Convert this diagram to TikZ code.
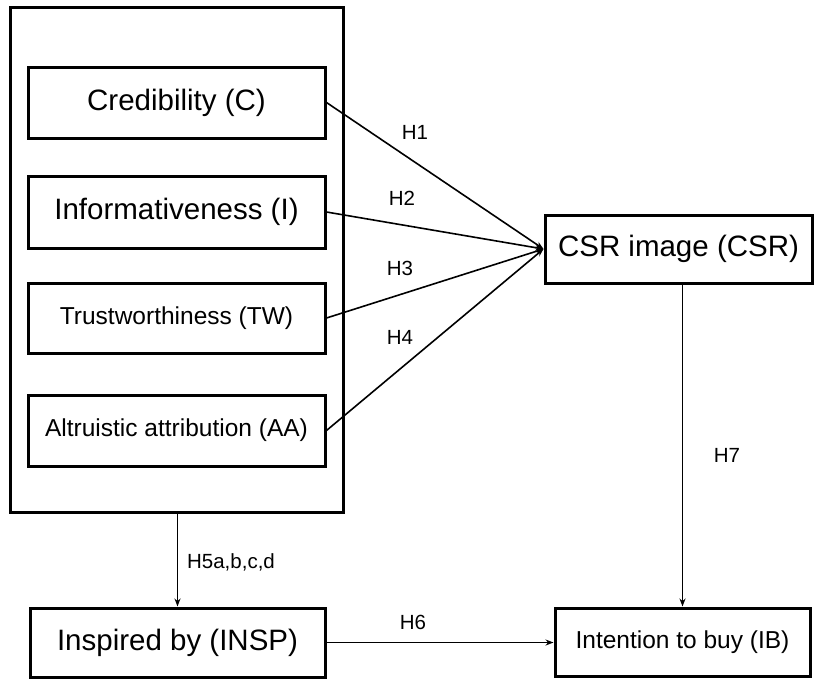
\documentclass[tikz,border=0pt]{standalone}
\usepackage{fontspec}
\setmainfont{Liberation Sans}
\usetikzlibrary{arrows.meta}
\begin{document}
\begin{tikzpicture}[x=1pt,y=-1pt,
  bigtxt/.style={font=\fontsize{29.5}{34}\selectfont},
  smalltxt/.style={font=\fontsize{24.5}{29}\selectfont},
  box/.style={draw, line width=3pt, inner sep=0pt, anchor=center},
  hlabel/.style={font=\fontsize{20.5}{24}\selectfont, inner sep=0pt},
  link/.style={line width=1.6pt},
  arr/.style={link, -{Stealth[length=8pt,width=6pt]}}]
\useasboundingbox (0,0) rectangle (814,678);

% grouping frame around the four antecedents
\node[box, minimum width=333pt, minimum height=505pt] (grp) at (176.5,259.5) {};

% antecedents
\node[box, bigtxt, minimum width=297pt, minimum height=71pt] (C) at (176.5,102.5) {Credibility (C)};
\node[box, bigtxt, minimum width=297pt, minimum height=72pt] (I) at (176.5,212) {Informativeness (I)};
\node[box, smalltxt, minimum width=297pt, minimum height=70pt] (TW) at (176.5,318) {Trustworthiness (TW)};
\node[box, smalltxt, minimum width=297pt, minimum height=71pt] (AA) at (176.5,430.5) {Altruistic attribution (AA)};

% outcomes
\node[box, bigtxt, minimum width=267pt, minimum height=68pt] (CSR) at (678.5,249) {CSR image (CSR)};
\node[box, bigtxt, minimum width=295pt, minimum height=69pt] (INSP) at (177.5,642.5) {Inspired by (INSP)};
\node[box, smalltxt, minimum width=255pt, minimum height=68pt] (IB) at (682.5,642) {Intention to buy (IB)};

% paths
\draw[arr] (C.east) -- (CSR.west);
\draw[arr] (I.east) -- (CSR.west);
\draw[arr] (TW.east) -- (CSR.west);
\draw[arr] (AA.east) -- (CSR.west);
\draw[arr] (grp.south -| INSP.north) -- (INSP.north);
\draw[arr] (INSP.east) -- (INSP.east -| IB.west);
\draw[arr] (CSR.south -| IB.north) -- (IB.north);

% hypothesis labels
\node[hlabel] (h1) at (415,132) {H1};
\node[hlabel] (h2) at (402,198) {H2};
\node[hlabel] (h3) at (400,268) {H3};
\node[hlabel] (h4) at (400,337) {H4};
\node[hlabel] (h5) at (231,562) {H5a,b,c,d};
\node[hlabel] (h6) at (413,622) {H6};
\node[hlabel] (h7) at (727,455) {H7};
\end{tikzpicture}
\end{document}
